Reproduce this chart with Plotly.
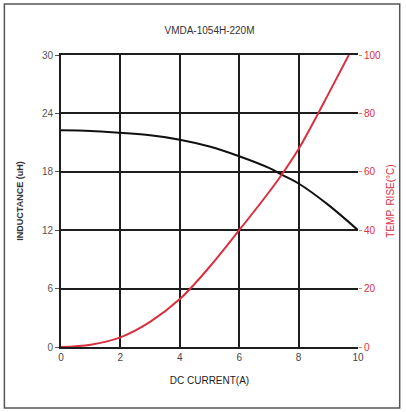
import plotly.graph_objects as go

# Data
current_L = [0, 1, 2, 3, 4, 5, 6, 7, 7.43, 8, 9, 10]
inductance = [22.26, 22.2, 22.0, 21.75, 21.3, 20.6, 19.6, 18.4, 17.7, 16.8, 14.6, 12.0]

current_T = [0, 1, 2, 3, 4, 5, 6, 7, 7.43, 8, 8.66, 9, 9.69]
temp_rise = [0, 0.8, 3.3, 8.6, 16.4, 27.4, 40, 53, 59, 67.8, 80, 86.6, 100]

x_ticks = [0, 2, 4, 6, 8, 10]
l_ticks = [0, 6, 12, 18, 24, 30]
t_ticks = [0, 20, 40, 60, 80, 100]

RED = "#d7303f"
GRID = "#1e1e1e"

fig = go.Figure()

fig.add_trace(go.Scatter(
    x=current_L, y=inductance, mode="lines",
    line=dict(color="#111111", width=2, shape="spline"),
    showlegend=False, yaxis="y", cliponaxis=False
))
fig.add_trace(go.Scatter(
    x=current_T, y=temp_rise, mode="lines",
    line=dict(color=RED, width=2, shape="spline"),
    showlegend=False, yaxis="y2", cliponaxis=False
))

font = "Liberation Sans, Arial, sans-serif"

fig.update_layout(
    width=406, height=412,
    margin=dict(l=61, r=46, t=55, b=65),
    paper_bgcolor="white", plot_bgcolor="white",
    font=dict(family=font, size=10, color="#444"),
    title=dict(text="VMDA-1054H-220M", x=0.5, xref="paper", y=0.925,
               yanchor="middle", font=dict(size=10, color="#333")),
    xaxis=dict(range=[0, 10], tickvals=x_ticks, showgrid=True,
               gridcolor=GRID, gridwidth=2, zeroline=False,
               showline=True, linecolor=GRID, linewidth=2, mirror=True,
               ticks="", tickfont=dict(size=10, color="#444"),
               title=dict(text="DC CURRENT(A)", font=dict(size=10, color="#222"),
                          standoff=15)),
    yaxis=dict(range=[0, 30], tickvals=l_ticks, showgrid=True,
               gridcolor=GRID, gridwidth=2, zeroline=False,
               showline=True, linecolor=GRID, linewidth=2,
               ticks="outside", ticklen=4, tickcolor="#555",
               tickfont=dict(size=10, color="#555"),
               title=dict(text="<b>INDUCTANCE (uH)</b>",
                          font=dict(size=9, color="#333"), standoff=17)),
    yaxis2=dict(range=[0, 100], tickvals=t_ticks, overlaying="y", side="right",
                showgrid=False, zeroline=False, showline=False,
                ticks="outside", ticklen=3, tickcolor="#d98c3a",
                tickfont=dict(size=10, color=RED),
                title=dict(text="TEMP. RISE(°C)", font=dict(size=10, color=RED),
                           standoff=6)),
    shapes=[dict(type="rect", xref="paper", yref="paper",
                 x0=-57/299, x1=1+42/299, y0=-61/292.5, y1=1+51/292.5,
                 line=dict(color="#555", width=1.5))]
)

fig.write_html("out.html", config={"displayModeBar": False},
               post_script="document.body.style.margin='0';"
                           "document.body.style.overflow='hidden';")
